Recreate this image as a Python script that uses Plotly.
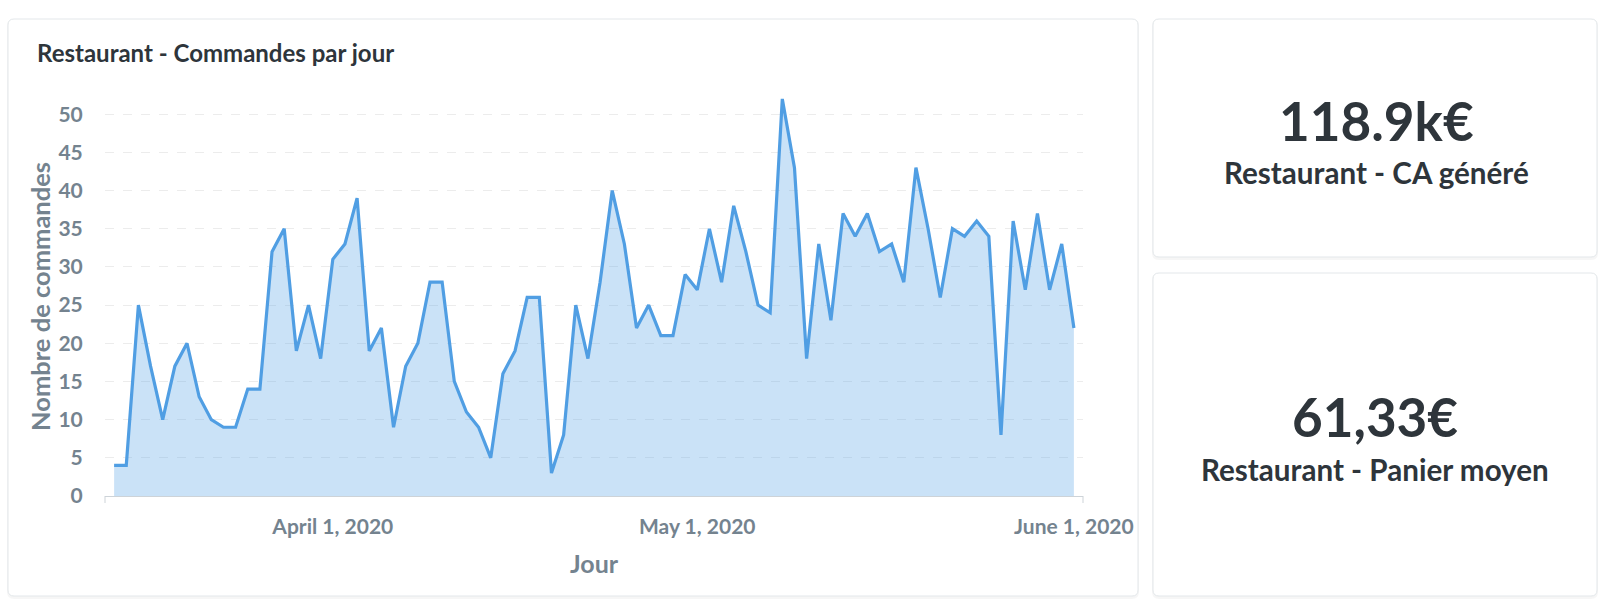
import pandas as pd
import plotly.graph_objects as go

W, H = 1604, 604

start_day = "2020-03-14"
commandes = [4, 4, 25, 17, 10, 17, 20, 13, 10, 9,
             9, 14, 14, 32, 35, 19, 25, 18, 31, 33,
             39, 19, 22, 9, 17, 20, 28, 28, 15, 11,
             9, 5, 16, 19, 26, 26, 3, 8, 25, 18,
             28, 40, 33, 22, 25, 21, 21, 29, 27, 35,
             28, 38, 32, 25, 24, 52, 43, 18, 33, 23,
             37, 34, 37, 32, 33, 28, 43, 35, 26, 35,
             34, 36, 34, 8, 36, 27, 37, 27, 33, 22]
jours = pd.date_range(start_day, periods=len(commandes), freq="D")

tick_dates = ["2020-04-01", "2020-05-01", "2020-06-01"]
tick_labels = ["April 1, 2020", "May 1, 2020", "June 1, 2020"]
y_ticks = [0, 5, 10, 15, 20, 25, 30, 35, 40, 45, 50]

chart_title = "Restaurant - Commandes par jour"
y_title = "Nombre de commandes"
x_title = "Jour"

scalar_values = ["118.9k€", "61,33€"]
scalar_labels = ["Restaurant - CA généré", "Restaurant - Panier moyen"]

FONT = "Lato, 'Open Sans', sans-serif"
DARK = "#2e353b"
GREY = "#74838f"
BLUE = "#509ee3"


def px(x):
    return x / W


def py(y):
    return 1 - y / H


def rounded_rect(x0, y0, x1, y1, r):
    rx, ry = r / W, r / H
    X0, X1 = px(x0), px(x1)
    Y0, Y1 = py(y0), py(y1)  # Y0 top, Y1 bottom in paper
    return (f"M {X0+rx},{Y0} L {X1-rx},{Y0} Q {X1},{Y0} {X1},{Y0-ry} "
            f"L {X1},{Y1+ry} Q {X1},{Y1} {X1-rx},{Y1} L {X0+rx},{Y1} "
            f"Q {X0},{Y1} {X0},{Y1+ry} L {X0},{Y0-ry} Q {X0},{Y0} {X0+rx},{Y0} Z")


cards = [(8, 19, 1138, 596), (1153, 19, 1597, 257), (1153, 273, 1597, 596)]

shapes = []
for (x0, y0, x1, y1) in cards:
    shapes.append(dict(type="path", xref="paper", yref="paper", layer="below",
                       path=rounded_rect(x0 - 1, y0, x1 + 1, y1 + 3, 7),
                       fillcolor="rgba(0,0,0,0.035)", line=dict(width=0)))
    shapes.append(dict(type="path", xref="paper", yref="paper", layer="below",
                       path=rounded_rect(x0, y0, x1, y1, 6),
                       fillcolor="white", line=dict(color="#e3e7ea", width=1)))

for xe in (105, 1083):
    shapes.append(dict(type="line", xref="paper", yref="paper", layer="above",
                       x0=px(xe), x1=px(xe), y0=py(496), y1=py(503),
                       line=dict(color="#cdd3d8", width=1)))

fig = go.Figure()
fig.add_trace(go.Scatter(
    x=jours, y=commandes, mode="lines",
    line=dict(color=BLUE, width=3.2),
    fill="tozeroy", fillcolor="rgba(80,158,227,0.3)",
    hoverinfo="x+y", showlegend=False,
))

annotations = [
    dict(text=f"<b>{chart_title}</b>", xref="paper", yref="paper",
         x=px(35), y=py(53), xanchor="left", yanchor="middle", showarrow=False,
         font=dict(family=FONT, size=24, color=DARK)),
    dict(text=f"<b>{y_title}</b>", xref="paper", yref="paper",
         x=px(40), y=py(297), xanchor="center", yanchor="middle", showarrow=False,
         textangle=-90, font=dict(family=FONT, size=25.5, color=GREY)),
    dict(text=f"<b>{x_title}</b>", xref="paper", yref="paper",
         x=px(594), y=py(563), xanchor="center", yanchor="middle", showarrow=False,
         font=dict(family=FONT, size=25, color=GREY)),
]

centers = [(1376, 120, 172.5), (1375, 416, 469)]
for (cx, vy, ly), val, lab in zip(centers, scalar_values, scalar_labels):
    annotations.append(dict(text=f"<b>{val}</b>", xref="paper", yref="paper",
                            x=px(cx), y=py(vy), xanchor="center", yanchor="middle",
                            showarrow=False, font=dict(family=FONT, size=53, color=DARK)))
    annotations.append(dict(text=f"<b>{lab}</b>", xref="paper", yref="paper",
                            x=px(cx), y=py(ly), xanchor="center", yanchor="middle",
                            showarrow=False, font=dict(family=FONT, size=29.6, color=DARK)))

fig.update_layout(
    width=W, height=H,
    margin=dict(l=0, r=0, t=0, b=0, pad=0, autoexpand=False),
    paper_bgcolor="white", plot_bgcolor="rgba(0,0,0,0)",
    shapes=shapes, annotations=annotations,
    xaxis=dict(
        domain=[px(105), px(1083)],
        range=["2020-03-13 06:00", "2020-06-01 18:00"],
        tickvals=tick_dates, ticktext=tick_labels,
        showgrid=False, zeroline=False, automargin=False,
        showline=True, linecolor="#cdd3d8", linewidth=1,
        ticks="outside", ticklen=12, tickcolor="rgba(0,0,0,0)",
        tickfont=dict(family=FONT, size=21, color=GREY, weight="bold"),
    ),
    yaxis=dict(
        domain=[py(496), py(76)],
        range=[0, 55],
        tickvals=y_ticks,
        showgrid=True, gridcolor="#ececec", griddash="dash", gridwidth=1,
        zeroline=False, showline=False, automargin=False,
        ticks="outside", ticklen=17, tickcolor="rgba(0,0,0,0)",
        tickfont=dict(family=FONT, size=21, color=GREY, weight="bold"),
    ),
)

fig.write_html("out.html")
